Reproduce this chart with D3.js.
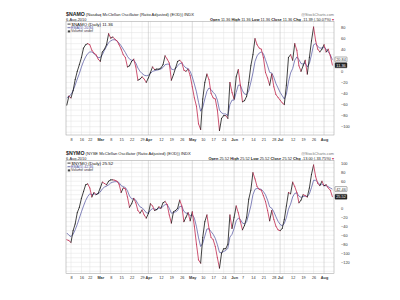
<!DOCTYPE html>
<html>
<head>
<meta charset="utf-8">
<script src="https://cdn.jsdelivr.net/npm/d3@7"></script>
<style>
body { margin: 0; background: #fff; }
svg text { font-family: "Liberation Sans", Arial, sans-serif; }
</style>
</head>
<body>
<div id="chart"></div>
<script>
// trading calendar
const holidays = ["2010-02-15", "2010-04-02", "2010-05-31", "2010-07-05"];
const tickDates = ["2010-02-08","2010-02-16","2010-02-22","2010-03-01","2010-03-08","2010-03-15","2010-03-22","2010-03-29","2010-04-01","2010-04-12","2010-04-19","2010-04-26","2010-05-03","2010-05-10","2010-05-17","2010-05-24","2010-06-01","2010-06-07","2010-06-14","2010-06-21","2010-06-28","2010-07-01","2010-07-12","2010-07-19","2010-07-26","2010-08-02"];
const tickLabels = ["8","16","22","Mar","8","15","22","29","Apr","12","19","26","May","10","17","24","Jun","7","14","21","28","Jul","12","19","26","Aug"];
const extraGrid = ["2010-04-05", "2010-07-06"];

// $NAMO
const namoDaily = [-61,-45,-48,-35,-15,0,12,25,42,48,50,48,38,33,30,22,18,35,40,48,
  68,60,62,58,55,48,40,30,25,8,10,18,22,8,-16,-14,-10,-14,-20,-12,
  -2,8,3,4,4,6,12,28,22,15,-16,-6,6,18,20,16,2,0,4,-8,
  -28,-48,-63,-95,-105,-50,-20,-5,-15,-40,-48,-50,-70,-107,-85,-80,-80,-85,-20,-38,
  -50,-10,3,-25,-55,-53,-45,-20,10,30,59,48,42,40,25,-2,-12,-25,-5,-28,
  -42,-47,-52,-57,-60,-25,25,30,20,50,38,10,0,10,20,-5,25,55,80,55,
  40,35,40,48,35,40,28,11.36];
const namoEma = [-48,-45,-42,-35,-25,-14,-4,8,18,26,32,35,35,32,28,25,25,30,38,45,
  52,55,57,57,55,51,46,40,34,27,22,20,20,15,6,0,-4,-7,-8,-7,
  -4,0,1,2,3,4,7,12,13,13,4,3,5,10,14,15,10,6,5,0,
  -10,-23,-37,-56,-72,-65,-50,-36,-30,-33,-38,-42,-52,-70,-75,-77,-77,-80,-60,-52,
  -52,-38,-25,-25,-35,-41,-42,-35,-20,-3,18,28,33,35,32,21,10,-2,-3,-11,
  -22,-30,-38,-44,-50,-41,-19,-3,5,20,26,21,14,13,15,8,14,30,48,50,
  45,42,42,44,40,35,30,20.84];
const namoTicks = [80, 60, 40, 20, 0, -20, -40, -60, -80, -100];

// $NYMO
const nymoDaily = [-70,-72,-76,-50,-35,-10,2,22,37,52,54,45,25,35,30,33,45,58,55,52,
  60,63,63,62,60,53,35,45,43,25,2,10,22,12,-5,-11,-4,-15,-22,-12,
  10,5,-5,-3,3,0,12,15,8,-15,-33,-8,-5,0,18,5,-30,-20,-10,-28,
  -8,-40,-80,-115,-122,-65,-30,-15,-45,-65,-70,-85,-110,-133,-100,-90,-90,-80,-15,-45,
  -20,5,-10,-30,-48,-38,-20,20,40,79,65,48,42,40,28,15,-5,-28,-5,-25,
  -40,-48,-50,-45,-25,5,35,32,58,48,35,12,18,30,28,25,45,75,96,70,
  55,50,60,50,52,45,40,25.52];
const nymoEma = [-55,-60,-63,-58,-48,-36,-22,-8,5,17,26,32,30,32,31,32,36,43,47,49,
  52,56,58,59,59,57,50,48,46,39,27,21,21,18,10,3,1,-4,-10,-11,
  -4,-1,-2,-3,0,0,4,8,8,0,-11,-10,-8,-5,4,4,-7,-11,-11,-17,
  -14,-22,-41,-66,-85,-78,-62,-46,-46,-52,-58,-67,-81,-98,-99,-96,-94,-89,-64,-58,
  -45,-28,-22,-25,-33,-35,-30,-13,5,30,42,44,43,42,37,30,18,3,0,-8,
  -19,-29,-36,-39,-34,-21,-2,9,25,33,34,27,24,26,27,26,32,46,62,62,
  58,52,54,50,50,48,45,42.46];
const nymoTicks = [100, 80, 60, 40, 20, 0, -20, -40, -60, -80, -100, -120];

const W = 400, H = 300;
const upColor = "#111", downColor = "#c0284e", emaColor = "#4d4f9e";

const fmt = d3.timeFormat("%Y-%m-%d");
const days = d3.timeDay.range(new Date(2010, 1, 4), new Date(2010, 7, 7))
  .filter(d => d.getDay() % 6 !== 0 && !holidays.includes(fmt(d)))
  .map(fmt);

const svg = d3.select("#chart").append("svg")
  .attr("width", W).attr("height", H);

const x = d3.scaleLinear().domain([0, days.length - 1]).range([66.8, 332.4]);
const plotLeft = 66, plotRight = 334;

function drawPanel(cfg) {
  const g = svg.append("g").attr("transform", "translate(0," + cfg.offset + ")");
  const y = d3.scaleLinear().domain(cfg.domain).range([cfg.bottom, cfg.top]);

  // header
  const title = g.append("text").attr("x", plotLeft).attr("y", 16.3).attr("font-size", 4.1).attr("fill", "#222");
  title.append("tspan").attr("font-weight", "bold").attr("font-size", 5.2).text(cfg.symbol);
  title.append("tspan").text(" " + cfg.name);
  g.append("text").attr("x", plotLeft).attr("y", 20.6).attr("font-size", 3.9).attr("fill", "#222").text("6-Aug-2010");
  g.append("text").attr("x", plotRight).attr("y", 16.3).attr("font-size", 3.8).attr("fill", "#777")
    .attr("text-anchor", "end").text("@StockCharts.com");
  const q = g.append("text").attr("x", plotRight).attr("y", 20.6).attr("font-size", 3.9).attr("fill", "#222")
    .attr("text-anchor", "end");
  cfg.quote.forEach((p, i) => {
    q.append("tspan").attr("font-weight", "bold").text((i ? " " : "") + p[0] + " ");
    q.append("tspan").text(p[1]);
  });
  q.append("tspan").attr("fill", "#c0284e").text(" \u25BE");

  // frame + grid
  g.append("rect").attr("x", plotLeft).attr("y", cfg.top).attr("width", plotRight - plotLeft)
    .attr("height", cfg.bottom - cfg.top).attr("fill", "#fff");
  g.append("g").selectAll("line").data(d3.range(-140, 101, 10).filter(v => y(v) > cfg.top && y(v) < cfg.bottom))
    .join("line")
    .attr("x1", plotLeft).attr("x2", plotRight)
    .attr("y1", d => y(d)).attr("y2", d => y(d))
    .attr("stroke", "#e2e2e2").attr("stroke-width", 0.5);
  const gridDates = tickDates.concat(extraGrid);
  g.append("g").selectAll("line").data(gridDates).join("line")
    .attr("x1", d => x(days.indexOf(d))).attr("x2", d => x(days.indexOf(d)))
    .attr("y1", cfg.top).attr("y2", cfg.bottom)
    .attr("stroke", d => isNaN(+tickLabels[tickDates.indexOf(d)]) && tickDates.includes(d) ? "#b8b8b8" : "#e2e2e2")
    .attr("stroke-width", 0.5);
  g.append("rect").attr("x", plotLeft).attr("y", cfg.top).attr("width", plotRight - plotLeft)
    .attr("height", cfg.bottom - cfg.top).attr("fill", "none").attr("stroke", "#999").attr("stroke-width", 0.5);

  // EMA line
  g.append("path").datum(cfg.ema)
    .attr("d", d3.line().x((d, i) => x(i)).y(d => y(d)))
    .attr("fill", "none").attr("stroke", emaColor).attr("stroke-width", 0.7);

  // daily line, coloured by direction
  g.append("g").selectAll("line").data(d3.pairs(cfg.daily.map((v, i) => [i, v]))).join("line")
    .attr("x1", d => x(d[0][0])).attr("y1", d => y(d[0][1]))
    .attr("x2", d => x(d[1][0])).attr("y2", d => y(d[1][1]))
    .attr("stroke", d => d[1][1] >= d[0][1] ? upColor : downColor)
    .attr("stroke-width", 0.8).attr("stroke-linecap", "round");

  // value boxes positions (labels under them are hidden, as in the original)
  let yd = y(cfg.daily[cfg.daily.length - 1]), ye = y(cfg.ema[cfg.ema.length - 1]);
  if (Math.abs(yd - ye) < 5.5) {
    const mid = (yd + ye) / 2, s = yd > ye ? 1 : -1;
    yd = mid + s * 2.9; ye = mid - s * 2.9;
  }
  const boxes = [[ye, cfg.emaLast, "#fff", "#333"], [yd, cfg.last, "#222", "#fff"]];

  // right axis
  const visibleTicks = cfg.ticks.filter(t => boxes.every(b => Math.abs(y(t) - b[0]) > 4.6));
  const ya = g.append("g").attr("transform", "translate(" + plotRight + ",0)")
    .call(d3.axisRight(y).tickValues(visibleTicks).tickSize(0).tickPadding(7));
  ya.select(".domain").remove();
  ya.selectAll("text").attr("font-size", 3.9).attr("fill", "#333").attr("font-family", "Liberation Sans");

  // bottom axis
  const xa = g.append("g").attr("transform", "translate(0," + cfg.bottom + ")")
    .call(d3.axisBottom(x).tickValues(tickDates.map(d => days.indexOf(d)))
      .tickFormat((d, i) => tickLabels[i]).tickSize(0).tickPadding(3));
  xa.select(".domain").remove();
  xa.selectAll("text").attr("font-size", 3.8).attr("fill", "#333").attr("font-family", "Liberation Sans")
    .attr("font-weight", (d, i) => isNaN(+tickLabels[i]) ? "bold" : "normal");

  // legend
  const leg = g.append("g").attr("transform", "translate(" + (plotLeft + 1.5) + "," + cfg.top + ")");
  leg.append("line").attr("x1", 0).attr("x2", 3).attr("y1", 2.6).attr("y2", 2.6).attr("stroke", upColor).attr("stroke-width", 0.8);
  leg.append("text").attr("x", 4).attr("y", 4).attr("font-size", 4.4).attr("font-family", "Liberation Mono")
    .attr("fill", "#111").text(cfg.symbol + " (Daily) " + cfg.last);
  leg.append("line").attr("x1", 0).attr("x2", 3).attr("y1", 6.2).attr("y2", 6.2).attr("stroke", emaColor).attr("stroke-width", 0.8);
  leg.append("text").attr("x", 3.5).attr("y", 7.5).attr("font-size", 3.6).attr("fill", emaColor)
    .text("EMA(5) " + cfg.emaLast);
  leg.append("rect").attr("x", 0.3).attr("y", 8.9).attr("width", 2.4).attr("height", 2).attr("fill", "#444");
  leg.append("text").attr("x", 3.5).attr("y", 10.9).attr("font-size", 3.6).attr("fill", "#333").text("Volume undef");

  boxes.forEach(b => {
    g.append("rect").attr("x", 335).attr("y", b[0] - 2.5).attr("width", 12).attr("height", 5)
      .attr("fill", b[2]).attr("stroke", "#333").attr("stroke-width", 0.4).attr("rx", 0.6);
    g.append("text").attr("x", 341).attr("y", b[0] + 1.4).attr("text-anchor", "middle")
      .attr("font-size", 3.9).attr("fill", b[3]).text(b[1]);
  });
}

drawPanel({
  offset: 0, top: 21.5, bottom: 135, domain: [-115, 90],
  symbol: "$NAMO", name: "(Nasdaq McClellan Oscillator (Ratio Adjusted) (EOD)) INDX",
  quote: [["Open", "11.36"], ["High", "11.36"], ["Low", "11.36"], ["Close", "11.36"], ["Chg", "-11.39 (-50.07%)"]],
  daily: namoDaily, ema: namoEma, ticks: namoTicks, last: "11.36", emaLast: "20.84"
});

drawPanel({
  offset: 139, top: 21.5, bottom: 134.5, domain: [-145, 106],
  symbol: "$NYMO", name: "(NYSE McClellan Oscillator (Ratio Adjusted) (EOD)) INDX",
  quote: [["Open", "25.52"], ["High", "25.52"], ["Low", "25.52"], ["Close", "25.52"], ["Chg", "-13.00 (-33.75%)"]],
  daily: nymoDaily, ema: nymoEma, ticks: nymoTicks, last: "25.52", emaLast: "42.46"
});
</script>
</body>
</html>
